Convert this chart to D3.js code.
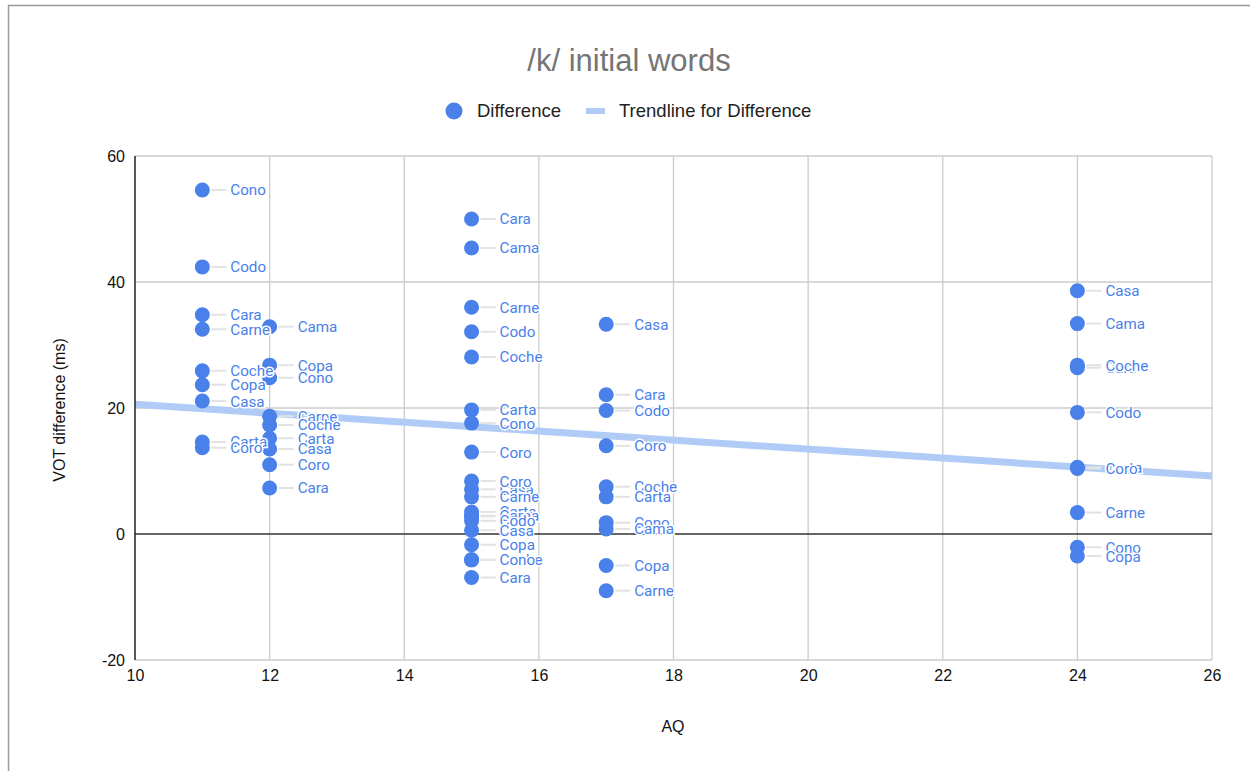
<!DOCTYPE html>
<html>
<head>
<meta charset="utf-8">
<script src="https://cdn.jsdelivr.net/npm/d3@7"></script>
<style>
  html, body { margin: 0; padding: 0; background: #fff; }
  svg { display: block; }
</style>
</head>
<body>
<svg id="chart" width="1250" height="771"></svg>
<script>
// AQ score of each speaker token, the word, and its VOT difference (ms)
const aqScores = [
  11, 11, 11, 11, 11, 11, 11, 11, 11,
  12, 12, 12, 12, 12, 12, 12, 12, 12,
  15, 15, 15, 15, 15, 15, 15, 15, 15, 15,
  15, 15, 15, 15, 15, 15, 15, 15, 15, 15,
  17, 17, 17, 17, 17, 17, 17, 17, 17, 17,
  24, 24, 24, 24, 24, 24, 24, 24, 24, 24
];
const words = [
  "Cono", "Codo", "Cara", "Carne", "Coche", "Copa", "Casa", "Carta", "Coro",
  "Cama", "Copa", "Cono", "Carne", "Coche", "Carta", "Casa", "Coro", "Cara",
  "Cara", "Cama", "Carne", "Codo", "Coche", "Carta", "Cono", "Coro", "Casa", "Copa",
  "Coro", "Carne", "Carta", "Cama", "Codo", "Casa", "Copa", "Coche", "Cono", "Cara",
  "Casa", "Cara", "Codo", "Coro", "Coche", "Carta", "Cono", "Cama", "Copa", "Carne",
  "Casa", "Cama", "Cara", "Coche", "Codo", "Carta", "Coro", "Carne", "Cono", "Copa"
];
const differences = [
  54.6, 42.4, 34.8, 32.5, 25.9, 23.7, 21.1, 14.6, 13.7,
  32.9, 26.8, 24.8, 18.7, 17.3, 15.2, 13.5, 11.0, 7.3,
  50.0, 45.4, 36.0, 32.1, 28.1, 19.7, 17.6, 13.0, 7.1, 2.8,
  8.4, 5.9, 3.5, 2.9, 2.1, 0.6, -1.7, -4.1, -4.1, -6.9,
  33.3, 22.1, 19.6, 14.0, 7.5, 5.9, 1.8, 0.8, -5.0, -9.0,
  38.6, 33.4, 26.4, 26.8, 19.3, 10.6, 10.4, 3.4, -2.1, -3.5
];

// Linear trendline end points
const trendX = [10, 26];
const trendY = [20.6, 9.2];

// Axis ticks
const xTicks = [10, 12, 14, 16, 18, 20, 22, 24, 26];
const yTicks = [-20, 0, 20, 40, 60];

const points = aqScores.map((aq, i) => ({ aq, word: words[i], diff: differences[i] }));

const svg = d3.select("#chart");
const margin = { left: 135, right: 1212, top: 156, bottom: 660 };

const x = d3.scaleLinear().domain([10, 26]).range([margin.left, margin.right]);
const y = d3.scaleLinear().domain([-20, 60]).range([margin.bottom, margin.top]);

const blue = "#4a80ea";
const trendBlue = "#b0cbf6";
const axisFont = "'Liberation Sans', Arial, sans-serif";
const plain = d => String(d);

// page frame
svg.append("line").attr("x1", 8).attr("x2", 1250).attr("y1", 5.5).attr("y2", 5.5)
  .attr("stroke", "#9a9a9a").attr("stroke-width", 1.5);
svg.append("line").attr("x1", 8.5).attr("x2", 8.5).attr("y1", 5).attr("y2", 771)
  .attr("stroke", "#9a9a9a").attr("stroke-width", 1.5);

// gridlines
const grid = svg.append("g");
grid.selectAll("line.vx").data(xTicks.filter(t => t > 10)).join("line")
  .attr("x1", d => x(d)).attr("x2", d => x(d))
  .attr("y1", y(60)).attr("y2", y(-20))
  .attr("stroke", "#cccccc").attr("stroke-width", 1.3);
grid.selectAll("line.hy").data(yTicks.filter(t => t !== 0)).join("line")
  .attr("x1", x(10)).attr("x2", x(26))
  .attr("y1", d => y(d)).attr("y2", d => y(d))
  .attr("stroke", "#cccccc").attr("stroke-width", 1.3);

// trendline
svg.append("line")
  .attr("x1", x(trendX[0])).attr("y1", y(trendY[0]))
  .attr("x2", x(trendX[1])).attr("y2", y(trendY[1]))
  .attr("stroke", trendBlue).attr("stroke-width", 7);

// zero baseline and left axis
svg.append("line").attr("x1", x(10)).attr("x2", x(26)).attr("y1", y(0)).attr("y2", y(0))
  .attr("stroke", "#333").attr("stroke-width", 1.5);
svg.append("line").attr("x1", x(10)).attr("x2", x(10)).attr("y1", y(60)).attr("y2", y(-20))
  .attr("stroke", "#222").attr("stroke-width", 1.5);

// tick labels
const yAxis = d3.axisLeft(y).tickValues(yTicks).tickFormat(plain).tickSize(0).tickPadding(10);
svg.append("g").attr("transform", `translate(${x(10)},0)`).call(yAxis)
  .call(g => g.select(".domain").remove())
  .selectAll("text").attr("font-family", axisFont).attr("font-size", 16).attr("fill", "#111");

const xAxis = d3.axisBottom(x).tickValues(xTicks).tickFormat(plain).tickSize(0).tickPadding(10);
svg.append("g").attr("transform", `translate(0,${y(-20)})`).call(xAxis)
  .call(g => g.select(".domain").remove())
  .selectAll("text").attr("font-family", axisFont).attr("font-size", 16).attr("fill", "#111");

// axis titles
svg.append("text").attr("x", 673).attr("y", 732).attr("text-anchor", "middle")
  .attr("font-family", axisFont).attr("font-size", 16).attr("fill", "#111").text("AQ");
svg.append("text").attr("transform", "translate(65,410) rotate(-90)").attr("text-anchor", "middle")
  .attr("font-family", axisFont).attr("font-size", 16).attr("fill", "#111").text("VOT difference (ms)");

// title
svg.append("text").attr("x", 629).attr("y", 71).attr("text-anchor", "middle")
  .attr("font-family", axisFont).attr("font-size", 31).attr("fill", "#757575").text("/k/ initial words");

// legend
const legend = svg.append("g");
legend.append("circle").attr("cx", 454).attr("cy", 111).attr("r", 8.5).attr("fill", blue);
legend.append("text").attr("x", 477).attr("y", 117).attr("font-family", axisFont)
  .attr("font-size", 18.5).attr("fill", "#222").text("Difference");
legend.append("line").attr("x1", 586).attr("x2", 605).attr("y1", 111).attr("y2", 111)
  .attr("stroke", trendBlue).attr("stroke-width", 6);
legend.append("text").attr("x", 619).attr("y", 117).attr("font-family", axisFont)
  .attr("font-size", 18.5).attr("fill", "#222").text("Trendline for Difference");

// points
svg.append("g").selectAll("circle").data(points).join("circle")
  .attr("cx", d => x(d.aq)).attr("cy", d => y(d.diff)).attr("r", 7.5)
  .attr("fill", blue);

// leader lines
svg.append("g").selectAll("line").data(points).join("line")
  .attr("x1", d => x(d.aq) + 9).attr("x2", d => x(d.aq) + 24)
  .attr("y1", d => y(d.diff)).attr("y2", d => y(d.diff))
  .attr("stroke", "#e2e2e2").attr("stroke-width", 2);

// data labels with white halo
svg.append("g").selectAll("text").data(points).join("text")
  .attr("x", d => x(d.aq) + 28).attr("y", d => y(d.diff)).attr("dy", "0.36em")
  .attr("font-family", "Roboto, 'Liberation Sans', sans-serif").attr("font-size", 15.2)
  .attr("fill", blue)
  .attr("stroke", "#fff").attr("stroke-width", 3).attr("paint-order", "stroke")
  .text(d => d.word);
</script>
</body>
</html>
